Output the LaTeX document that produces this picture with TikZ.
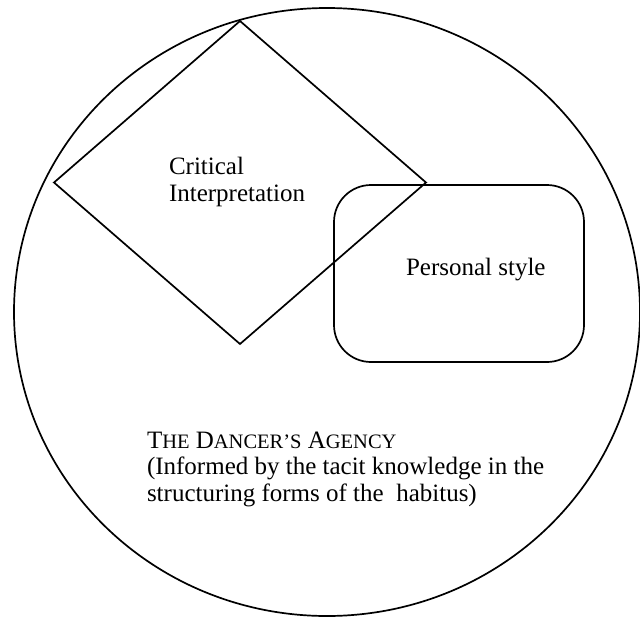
\documentclass[tikz,border=0pt]{standalone}
\usepackage{fontspec}
\setmainfont{Liberation Serif}
\usetikzlibrary{shapes.geometric}
\tikzset{
  outline/.style={draw=black, line width=1.7pt, inner sep=0pt, outer sep=0pt},
  label/.style={inner sep=0pt, outer sep=0pt, align=left, font=\fontsize{25}{26.5}\selectfont},
}
\begin{document}
\begin{tikzpicture}[x=1pt,y=-1pt]
\useasboundingbox (0,0) rectangle (640,619);
\node[outline, ellipse, minimum width=626pt, minimum height=608pt] (agency) at (327,312) {};
\node[outline, diamond, minimum width=372pt, minimum height=323pt] (critical) at (240,182.5) {};
\node[outline, rectangle, rounded corners=37pt, minimum width=250pt, minimum height=177pt] (style) at (459,273.5) {};
\node[label, anchor=base west] (criticaltext) at (169,201) {Critical\\Interpretation};
\node[label, anchor=base west] (styletext) at (406,275) {Personal style};
\node[label, anchor=base west] (agencytext) at (147,501) {T{\fontsize{20.5}{26.5}\selectfont HE} D{\fontsize{20.5}{26.5}\selectfont ANCER’S} A{\fontsize{20.5}{26.5}\selectfont GENCY}\\(Informed by the tacit knowledge in the\\structuring forms of the\ \ habitus)};
\end{tikzpicture}
\end{document}
